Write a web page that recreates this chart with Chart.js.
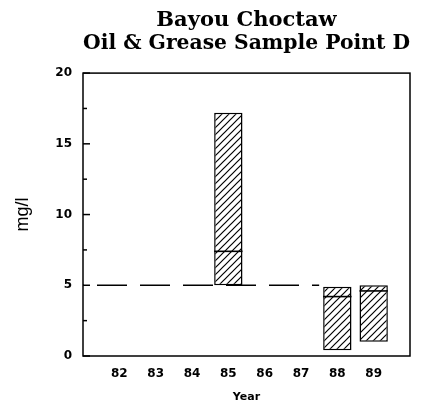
<!DOCTYPE html>
<html lang="en">
<head>
  <meta charset="UTF-8" />
  <title>Bayou Choctaw - Oil & Grease Sample Point D</title>
  <script src="https://cdn.jsdelivr.net/npm/chart.js"></script>
  <style>
    html, body { margin: 0; padding: 0; background: #fff; }
    #wrap { width: 426px; height: 404px; }
  </style>
</head>
<body>
<div id="wrap"><canvas id="chart" width="426" height="404"></canvas></div>

<script>
  // sample years shown on the axis
  const yearTicks = [82, 83, 84, 85, 86, 87, 88, 89];
  // years with samples, and min / max / median per year (mg/l)
  const sampleYears = [85, 88, 89];
  const lows = [5.0, 0.4, 1.0];
  const highs = [17.2, 4.9, 5.0];
  const medians = [7.4, 4.2, 4.6];
  // 5 mg/l level, dashed through the years before 1988
  const limit = 5;
  const limitSpan = [81, 87.5];

  // diagonal hatch fill for the boxes
  function hatch() {
    const s = 7;
    const c = document.createElement('canvas');
    c.width = s; c.height = s;
    const g = c.getContext('2d');
    g.fillStyle = '#fff';
    g.fillRect(0, 0, s, s);
    g.strokeStyle = '#000';
    g.lineWidth = 1.2;
    g.beginPath();
    g.moveTo(0, s); g.lineTo(s, 0);
    g.moveTo(-1, 1); g.lineTo(1, -1);
    g.moveTo(s - 1, s + 1); g.lineTo(s + 1, s - 1);
    g.stroke();
    return g.createPattern(c, 'repeat');
  }

  // frame, inward y ticks and median bars
  const extras = {
    id: 'extras',
    afterDatasetsDraw(chart) {
      const { ctx, chartArea: a, scales } = chart;
      ctx.save();
      ctx.strokeStyle = '#000';

      // medians across each box
      ctx.lineWidth = 1.6;
      const bars = chart.getDatasetMeta(0).data;
      bars.forEach((b, i) => {
        const y = scales.y.getPixelForValue(medians[i]);
        ctx.beginPath();
        ctx.moveTo(b.x - b.width / 2, y);
        ctx.lineTo(b.x + b.width / 2, y);
        ctx.stroke();
      });

      ctx.lineWidth = 1.5;
      ctx.strokeRect(a.left, a.top, a.right - a.left, a.bottom - a.top);

      for (let v = 0; v <= 20; v += 2.5) {
        const y = scales.y.getPixelForValue(v);
        const len = v % 5 === 0 ? 7 : 4;
        ctx.beginPath();
        ctx.moveTo(a.left, y);
        ctx.lineTo(a.left + len, y);
        ctx.stroke();
      }
      ctx.restore();
    }
  };

  new Chart(document.getElementById('chart'), {
    type: 'bar',
    data: {
      datasets: [
        {
          type: 'bar',
          data: sampleYears.map((yr, i) => ({ x: yr, y: [lows[i], highs[i]] })),
          backgroundColor: hatch(),
          borderColor: '#000',
          borderWidth: 1.5,
          borderSkipped: false,
          barPercentage: 0.78,
          categoryPercentage: 1,
          order: 0
        },
        {
          type: 'line',
          data: limitSpan.map(x => ({ x, y: limit })),
          borderColor: '#000',
          borderWidth: 1.5,
          borderDash: [30, 13],
          borderDashOffset: 29,
          pointRadius: 0,
          order: 1
        }
      ]
    },
    options: {
      responsive: false,
      animation: false,
      layout: { padding: { left: 0, right: 16, top: 0, bottom: 0 } },
      plugins: {
        legend: { display: false },
        tooltip: { enabled: false },
        title: {
          display: true,
          fullSize: false,
          text: ['Bayou Choctaw', 'Oil & Grease Sample Point D'],
          color: '#000',
          font: { family: 'DejaVu Serif', size: 21, weight: 'bold', lineHeight: 1.05 },
          padding: { top: 10, bottom: 19 }
        }
      },
      scales: {
        x: {
          type: 'linear',
          min: 81,
          max: 90,
          offset: false,
          grid: { display: false, drawTicks: false },
          border: { display: false },
          afterFit(s) { s.height = 48; },
          afterBuildTicks(s) { s.ticks = yearTicks.map(v => ({ value: v })); },
          ticks: {
            color: '#000',
            padding: 11,
            font: { family: 'DejaVu Sans', size: 12, weight: 'bold' },
            callback: v => String(v)
          },
          title: {
            display: true,
            text: 'Year',
            color: '#000',
            font: { family: 'DejaVu Sans', size: 11, weight: 'bold' },
            padding: { top: 8, bottom: 0 }
          }
        },
        y: {
          min: 0,
          max: 20,
          grid: { display: false, drawTicks: false },
          border: { display: false },
          afterFit(s) { s.width = 83; },
          ticks: {
            stepSize: 5,
            color: '#000',
            padding: 11,
            font: { family: 'DejaVu Sans', size: 12, weight: 'bold' }
          },
          title: {
            display: true,
            text: 'mg/l',
            color: '#000',
            font: { family: 'Liberation Sans', size: 18 },
            padding: { top: 12, bottom: 0 }
          }
        }
      }
    },
    plugins: [extras]
  });
</script>
</body>
</html>
